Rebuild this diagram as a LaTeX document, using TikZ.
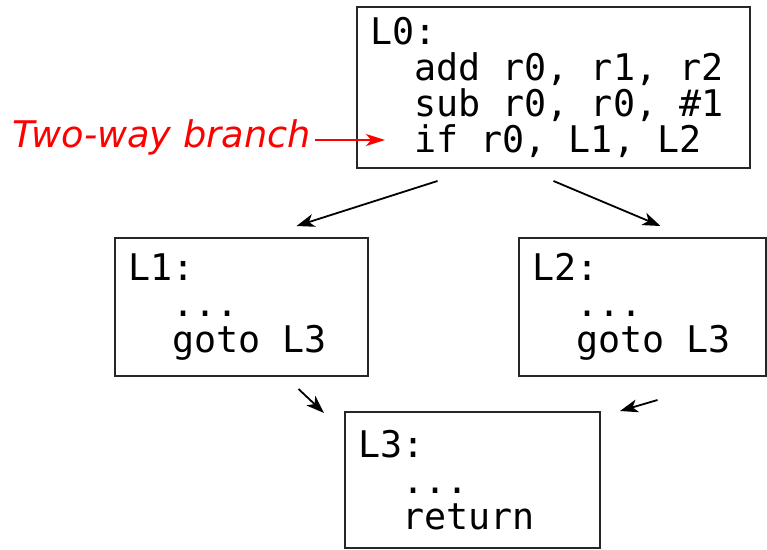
\documentclass[tikz,border=0pt]{standalone}
\usepackage{fontspec}
\usepackage{xcolor}
\usepackage{tikz}
\usetikzlibrary{shapes,arrows,positioning,calc,arrows.meta}
\newfontfamily\codefont{DejaVu Sans Mono}
\newfontfamily\notefont{DejaVu Sans}

\begin{document}
\begin{tikzpicture}[x=1pt, y=-1pt,
    block/.style={draw=black!85, line width=2pt, anchor=north west, align=left,
        inner xsep=13pt, inner ysep=0pt, font=\codefont\fontsize{36.7}{36}\selectfont,
        % align=left shrinks spaces, keep them one column wide
        execute at begin node={\spaceskip=0.6021em\xspaceskip=0.6021em\relax}},
    flow/.style={line width=1.8pt, -{Stealth[length=18pt, width=13pt, inset=5pt]}},
    note/.style={red, line width=1.6pt, -{Stealth[length=19pt, width=12pt, inset=5pt]}}]
    \useasboundingbox (0,0) rectangle (767,549);

    % Basic blocks
    \node[block, text width=367pt, minimum height=161pt] (l0) at (356,6)
        {L0:\\\ \ add r0, r1, r2\\\ \ sub r0, r0, \#1\\\ \ if r0, L1, L2};
    \node[block, text width=227pt, minimum height=138pt] (l1) at (114,237)
        {L1:\\\ \ ...\\\ \ goto L3};
    \node[block, text width=221pt, minimum height=138pt] (l2) at (518,237)
        {L2:\\\ \ ...\\\ \ goto L3};
    \node[block, text width=229pt, minimum height=136pt] (l3) at (344,411)
        {L3:\\\ \ ...\\\ \ return};

    % Annotation
    \node[red, anchor=base west, inner sep=4pt,
        font=\notefont\itshape\fontsize{36.7}{40}\selectfont] (branch) at (8,147) {Two-way branch};
    \coordinate (ifline) at ($(l0.north west)+(29,134)$);
    \draw[note] (branch.east |- ifline) -- (ifline);

    % Control flow edges
    \draw[flow] ($(l0.south)+(-116,12)$) -- ($(l1.north)+(55,-11)$);
    \draw[flow] ($(l0.south)+(0,12)$) -- ($(l2.north)+(18,-11)$);
    \draw[flow] ($(l1.south)+(57,12)$) -- ($(l3.north west)+(-20,2)$);
    \draw[flow] ($(l2.south)+(15,23)$) -- ($(l3.north east)+(19,0)$);
\end{tikzpicture}
\end{document}
